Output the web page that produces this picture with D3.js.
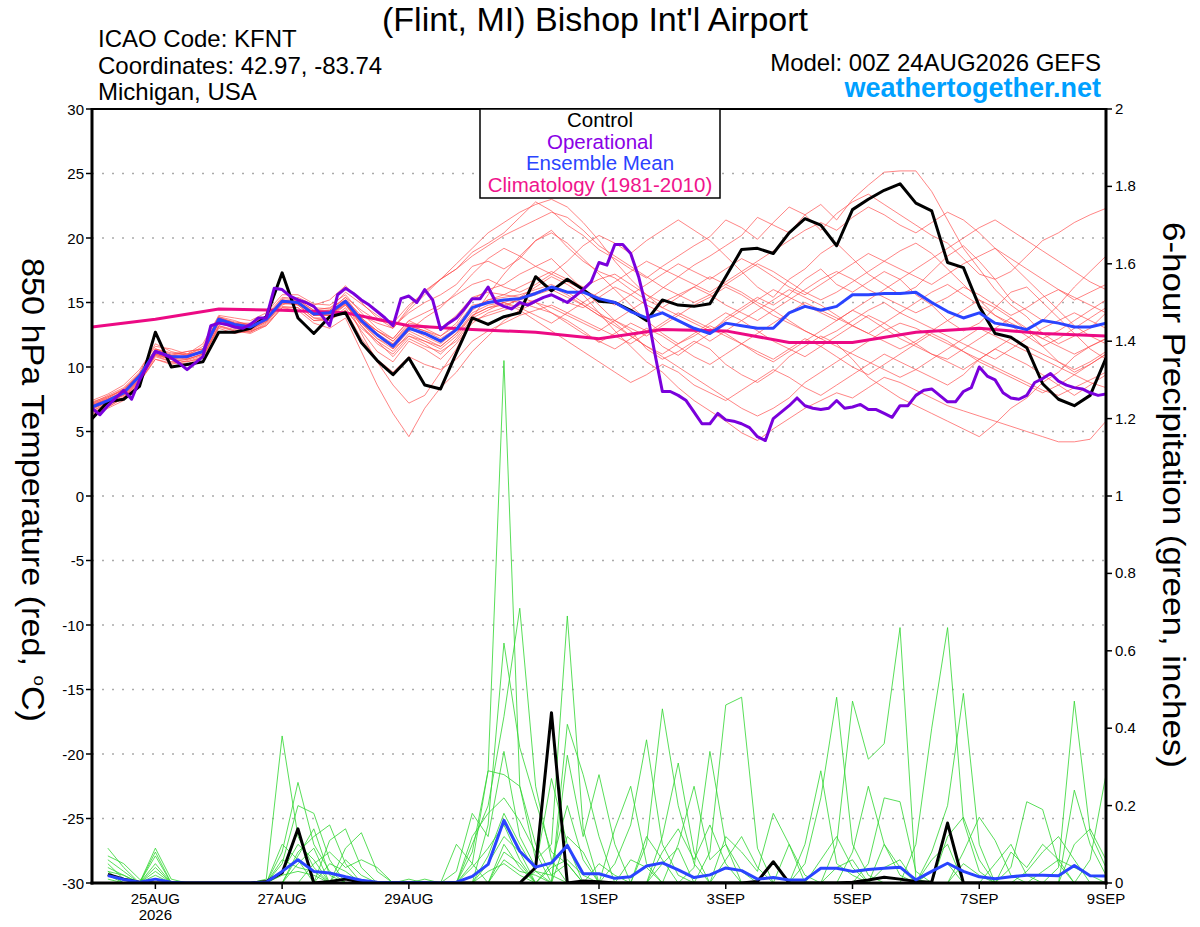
<!DOCTYPE html>
<html><head><meta charset="utf-8">
<script src="https://cdn.jsdelivr.net/npm/d3@7"></script>
<style>body{margin:0;background:#fff}svg{display:block}text{font-family:"Liberation Sans",Arial,Helvetica,sans-serif}</style>
</head><body><svg id="c" width="1200" height="927"></svg>
<script>
// ---------------- data ----------------
const titleText = "(Flint, MI) Bishop Int'l Airport";
const infoLines = ["ICAO Code: KFNT", "Coordinates: 42.97, -83.74", "Michigan, USA"];
const modelText = "Model: 00Z 24AUG2026 GEFS";
const siteText = "weathertogether.net";
const legendItems = ["Control", "Operational", "Ensemble Mean", "Climatology (1981-2010)"];
const dayLabels = ["25AUG","27AUG","29AUG","1SEP","3SEP","5SEP","7SEP","9SEP"];
const dayLabelHours = [24,72,120,192,240,288,336,384];
const yearLabel = "2026";
const tempTicks = [-30,-25,-20,-15,-10,-5,0,5,10,15,20,25,30];
const precipTicks = [0,0.2,0.4,0.6,0.8,1,1.2,1.4,1.6,1.8,2];
const precipTickLabels = ["0","0.2","0.4","0.6","0.8","1","1.2","1.4","1.6","1.8","2"];

// 6-hourly, 0..384 h
const controlTemp = [6.0,7.3,7.5,8.5,12.7,10.0,10.2,10.4,12.7,12.7,13.0,13.9,17.3,13.8,12.6,13.9,14.2,11.9,10.5,9.4,10.7,8.6,8.3,11.1,13.8,13.3,13.9,14.2,17.0,15.9,16.8,16.0,15.1,15.0,14.4,13.6,15.2,14.8,14.7,14.9,17.0,19.1,19.2,18.8,20.4,21.5,21.0,19.4,22.2,23.0,23.7,24.2,22.7,22.1,18.1,17.7,14.7,12.6,12.3,11.5,8.7,7.5,7.0,7.8,10.7];
const meanTemp = [6.9,7.4,8.0,9.3,11.2,10.8,10.8,11.2,13.7,13.3,13.1,13.7,15.1,15.0,14.1,14.2,15.1,13.6,12.5,11.6,13.0,12.6,12.0,12.9,14.6,15.0,15.2,15.3,15.7,16.2,15.8,15.8,15.3,15.0,14.3,13.8,14.2,13.6,13.0,12.6,13.4,13.2,13.0,13.0,14.2,14.7,14.4,14.7,15.6,15.6,15.7,15.7,15.8,15.0,14.3,13.8,14.2,13.4,13.2,12.9,13.6,13.4,13.1,13.1,13.4];
// 3-hourly, 0..384 h
const operationalTemp = [6.8,6.3,7.0,7.6,8.2,7.5,9.0,10.1,11.2,11.0,
10.7,10.3,9.8,10.3,10.8,13.2,13.4,13.3,13.1,13.0,
13.3,13.8,13.8,16.1,16.0,15.5,15.2,15.0,14.7,14.0,
13.2,15.6,16.1,15.7,15.2,14.8,14.3,13.8,13.2,15.3,
15.5,15.0,16.0,15.2,12.9,13.4,13.8,14.5,15.3,15.3,
16.2,15.0,14.7,14.5,15.0,14.8,15.1,15.4,15.6,15.3,
15.0,15.5,16.0,16.6,18.1,17.9,19.5,19.5,18.8,17.0,
14.5,11.2,8.1,8.1,7.8,7.4,6.5,5.6,5.6,6.4,
5.9,5.8,5.6,5.3,4.6,4.3,6.0,6.5,7.0,7.6,
7.0,6.8,6.7,6.8,7.4,6.8,6.9,7.1,6.7,6.7,
6.4,6.1,7.0,7.0,7.8,8.2,8.3,7.8,7.3,7.3,
8.1,8.4,10.0,9.3,9.0,8.0,7.6,7.5,7.8,8.8,
9.1,9.5,8.9,8.6,8.4,8.3,8.0,7.8,7.9];
// daily, 0..384 h
const climTemp = [13.1,13.7,14.5,14.4,14.2,13.2,12.9,12.7,12.2,12.9,12.8,11.9,11.9,12.7,13.0,12.6,12.4];

// 6-hour precipitation, valid 6..384 h
const controlPrecip = [.022,.01,.002,0,0,0,0,0, 0,0,.004,.026,.14,0,.004,.01, .002,0,0,0,0,0,0,0, 0,0,0,.04,.44,0,.005,.003, 0,0,0,0,0,0,0,0, 0,.004,.055,0,0,0,0,.002, .008,.015,.01,.004,.002,.155,0,0, 0,0,0,0,0,0,0,0];
const meanPrecip = [.019,.009,.002,.01,.002,0,0,0, 0,0,.002,.03,.06,.03,.026,.016, .007,.002,.001,.001,.001,0,.002,.017, .048,.162,.082,.041,.052,.097,.024,.024, .012,.016,.044,.052,.034,.014,.021,.039, .032,.01,.014,.008,.008,.038,.038,.03, .035,.038,.041,.008,.03,.051,.03,.016, .011,.016,.02,.02,.019,.045,.019,.018];

// ensemble members, 850 hPa temperature, 6-hourly 0..384 h
const memberTemps = [
[7.2,7.8,8.4,9.6,11.8,11.2,10.9,11.6,13.9,13.6,13.2,14.0,15.4, 15.3,14.6,14.5,15.8,14.9,14.0,13.1,14.2,15.0,15.6,16.4,17.8,18.2, 17.6,18.4,19.8,20.6,19.3,18.2,17.4,16.9,16.0,15.2,16.1,17.0,17.9, 18.6,19.4,20.2,21.6,21.0,20.4,21.8,22.6,21.4,23.0,24.1,25.1,25.2, 25.2,23.6,21.4,19.2,17.6,16.0,14.8,13.9,12.6,11.8,12.4,13.0,14.2],
[6.6,7.1,7.9,9.0,10.9,10.4,10.6,11.0,13.4,13.0,12.8,13.5,14.8, 15.4,14.8,15.2,16.3,15.0,13.8,13.0,14.6,15.9,16.8,17.6,18.9,19.6, 20.4,21.6,22.8,22.1,21.0,20.2,19.1,18.4,17.6,16.9,17.8,18.6,19.4, 20.1,21.4,20.8,19.9,21.2,22.4,21.8,20.6,21.9,22.8,23.4,22.6,21.8, 21.0,20.2,19.6,18.4,17.2,16.8,17.4,18.6,19.8,20.4,21.2,21.8,22.3],
[7.0,7.6,8.2,9.4,11.0,10.6,10.4,10.8,13.2,12.8,12.6,13.2,14.6, 14.4,13.4,13.0,13.8,11.2,8.6,6.4,4.6,6.8,8.4,9.6,11.2,12.4, 13.6,14.4,15.0,14.2,13.6,12.8,11.9,12.6,13.4,12.8,11.6,10.9,11.8, 12.6,13.8,14.6,15.4,14.8,15.6,16.8,17.6,16.4,15.8,16.6,17.4,16.8, 15.6,14.8,13.6,12.8,13.4,14.6,15.8,16.2,15.0,13.8,12.6,11.4,10.6],
[6.8,7.2,7.6,9.0,11.4,10.9,11.2,11.4,13.8,13.4,13.4,13.9,15.2, 14.8,13.8,13.6,14.6,12.8,11.2,10.4,12.0,11.4,10.6,11.8,13.4,14.2, 14.6,15.4,16.2,17.0,16.4,15.6,14.2,12.8,11.6,10.4,9.6,8.4,7.4, 6.6,5.8,4.9,4.3,5.2,6.0,6.8,7.4,8.0,7.6,8.4,9.2,8.8, 8.2,7.6,7.0,6.6,6.2,5.8,5.4,5.0,4.6,4.2,4.2,4.4,5.8],
[7.4,7.9,8.6,9.8,11.6,11.4,11.0,11.8,14.0,13.8,13.6,14.2,15.6, 15.6,14.9,14.8,15.6,14.2,13.0,12.2,13.6,13.0,12.4,13.4,15.2,16.0, 16.4,17.2,17.8,18.4,17.2,16.0,14.8,13.6,12.8,11.4,10.6,11.2,12.0, 11.4,10.2,9.4,8.8,9.6,10.8,11.6,12.4,11.8,10.6,9.2,8.4,7.6, 7.0,6.4,5.8,5.2,4.6,5.6,6.8,7.6,8.8,9.6,10.8,11.6,12.2],
[6.4,6.9,7.6,8.9,10.6,10.2,10.5,10.9,13.2,12.9,12.7,13.4,14.9, 14.9,14.0,14.0,14.8,13.4,12.2,11.6,12.8,13.8,14.6,15.8,17.2,18.4, 19.2,18.6,17.8,17.2,18.2,19.4,20.2,19.6,18.8,19.8,20.6,21.4,20.6, 19.8,18.6,17.4,16.2,15.4,16.8,17.6,18.8,19.6,18.4,17.2,16.4,15.6, 16.2,17.4,18.6,19.4,18.2,16.8,15.2,14.4,13.6,14.8,16.2,17.4,18.6],
[7.1,7.5,8.0,9.2,11.0,10.7,10.9,11.2,13.6,13.1,13.0,13.6,15.0, 15.0,14.2,14.4,15.4,13.8,12.6,11.4,12.4,11.8,11.0,12.2,13.8,14.4, 15.0,14.4,13.6,12.8,12.0,11.2,10.4,9.6,8.8,9.4,10.2,9.6,8.6, 8.0,7.4,8.2,9.0,9.8,9.2,8.4,7.8,8.6,9.4,10.2,11.0,10.4, 9.8,9.2,8.6,9.4,10.6,11.4,10.8,10.2,9.4,8.6,7.8,8.6,9.4],
[6.2,6.8,7.4,8.8,10.8,10.4,10.2,10.8,13.0,12.6,12.8,13.2,14.6, 14.6,13.6,13.8,14.4,13.0,12.0,10.8,12.2,11.6,11.2,12.0,13.6,14.0, 14.4,14.8,15.2,15.6,15.0,14.6,15.4,16.2,15.6,14.8,14.2,13.6,12.8, 12.0,12.8,13.6,14.4,15.2,16.0,15.4,14.8,14.0,13.2,12.6,13.4,14.2, 15.0,15.8,16.4,15.6,14.8,14.0,13.2,12.4,11.6,12.2,13.0,13.8,14.6],
[6.9,7.4,7.8,9.1,11.2,10.8,10.6,11.0,13.5,13.2,13.0,13.6,15.0, 15.2,14.4,14.6,15.2,12.6,10.4,8.6,7.2,7.8,9.6,11.4,13.8,15.6, 17.2,18.6,19.8,20.4,19.6,18.4,17.2,16.0,14.8,13.6,12.6,11.8,12.4, 13.2,12.6,11.8,11.0,10.4,11.2,12.0,12.8,13.6,14.4,13.8,13.0,12.2, 11.6,11.0,10.6,11.4,12.2,13.0,13.8,12.8,11.6,10.4,9.6,10.2,11.0],
[7.3,7.7,8.3,9.5,11.4,11.0,11.2,11.4,13.8,13.5,13.3,13.8,15.2, 15.0,14.2,14.3,15.2,14.0,13.4,13.0,14.4,15.6,16.8,18.0,19.2,20.4, 21.2,22.0,22.6,23.0,22.4,21.2,19.8,18.2,16.8,15.6,14.6,15.4,16.2, 17.0,16.4,15.8,15.0,14.4,13.6,12.8,12.2,12.8,13.6,14.4,15.0,14.2, 13.6,13.0,12.4,11.8,11.2,10.6,11.4,12.2,13.0,13.6,14.2,13.6,13.0],
[6.7,7.3,7.9,9.2,11.1,10.6,10.8,11.2,13.7,13.2,12.9,13.6,15.0, 14.8,13.8,13.8,14.8,13.2,11.8,11.0,12.4,12.0,11.6,12.6,14.2,14.8, 15.0,14.6,14.0,13.4,14.2,15.0,15.8,16.6,17.4,18.2,17.6,17.0,16.4, 15.8,16.6,17.4,18.2,19.0,19.8,20.6,21.2,20.6,21.6,22.4,21.8,21.0, 20.4,21.2,22.0,21.4,20.4,19.2,18.0,16.8,15.6,14.4,13.2,12.4,11.8],
[7.0,7.5,8.1,9.3,11.3,10.9,10.7,11.3,13.6,13.3,13.2,13.8,15.1, 15.1,14.3,14.1,14.9,13.4,12.4,11.8,13.2,12.8,12.4,13.2,14.8,15.0, 15.2,15.0,14.6,14.2,13.4,12.6,12.0,11.4,12.2,13.0,12.4,11.6,10.8, 10.2,11.0,11.8,11.2,10.6,11.4,12.2,11.6,10.8,10.0,9.4,10.2,11.0, 11.8,12.6,12.0,11.2,10.4,9.8,9.2,8.6,8.0,8.6,9.4,10.2,11.0],
[6.5,7.0,7.7,9.0,10.9,10.6,10.9,11.1,13.6,13.2,13.0,13.7,15.0, 15.1,14.2,14.2,15.0,13.6,12.8,12.0,13.4,13.2,13.0,14.0,15.4,15.8, 15.6,16.2,16.8,17.4,16.8,16.2,16.8,17.2,16.4,15.6,15.0,15.6,16.2, 15.6,14.8,14.2,13.6,14.4,15.2,16.0,16.8,17.4,16.8,16.0,15.4,14.8, 14.2,14.8,15.4,16.2,15.6,14.8,14.0,14.6,15.4,16.0,15.4,14.8,14.2],
[7.2,7.6,8.3,9.4,11.2,10.9,10.8,11.1,13.7,13.3,13.1,13.7,15.2, 15.0,14.0,14.1,15.0,13.6,12.6,11.8,13.0,12.4,11.8,12.8,14.4,15.2, 15.4,15.6,16.0,16.4,15.8,15.0,14.2,13.4,12.4,11.6,10.8,10.0,9.2, 8.4,7.6,6.8,6.2,6.8,7.6,8.8,9.6,10.4,11.2,12.0,12.8,13.4, 13.0,12.4,11.8,11.2,10.6,10.0,9.4,8.8,8.2,7.8,8.4,9.0,9.6],
[6.8,7.3,8.0,9.2,11.2,10.8,10.8,11.3,13.8,13.3,13.1,13.7,15.1, 14.9,14.0,14.2,15.2,13.8,12.8,12.2,13.6,14.2,14.8,15.6,16.4,16.8, 16.2,15.8,16.4,17.2,16.6,16.0,15.4,14.8,15.6,16.4,17.2,18.0,17.4, 16.8,17.6,18.4,17.8,17.0,16.2,15.6,16.4,17.2,18.0,18.8,18.2,17.6, 17.0,16.4,17.2,18.0,18.6,19.2,18.4,17.6,16.8,16.0,15.2,15.8,16.4],
[6.6,7.2,7.8,9.1,11.0,10.6,10.6,11.0,13.4,13.1,12.9,13.5,14.9, 14.9,14.0,14.0,15.0,13.2,12.0,11.2,12.6,12.0,11.4,12.4,14.0,14.6, 14.8,15.2,15.6,16.0,15.4,14.8,14.0,13.6,13.0,12.4,13.2,14.0,14.8, 15.4,16.2,15.6,14.8,14.0,13.4,12.8,12.2,11.6,11.0,10.4,9.8,9.2, 9.8,10.6,11.4,12.2,13.0,12.4,11.8,11.2,10.6,10.0,9.4,8.8,8.4],
[7.1,7.7,8.2,9.5,11.4,11.1,11.0,11.4,13.9,13.4,13.2,13.9,15.3, 15.2,14.4,14.4,15.4,14.4,13.6,13.4,14.8,15.8,16.8,17.6,18.6,19.4, 20.2,20.8,21.4,22.0,21.6,20.6,19.4,18.6,17.8,17.0,16.2,15.6,15.0, 15.6,16.4,17.2,18.0,17.4,16.6,15.8,15.2,15.8,16.6,17.4,18.2,19.0, 19.6,18.8,17.6,16.4,15.2,14.0,13.4,12.8,12.2,12.8,13.6,14.4,15.2],
[6.3,6.9,7.6,8.8,10.6,10.3,10.4,10.7,13.1,12.8,12.7,13.3,14.7, 14.6,13.6,13.6,14.4,12.2,10.6,9.6,10.8,10.2,9.8,10.6,12.0,12.8, 13.4,14.0,14.4,14.8,14.2,13.6,13.0,12.4,11.8,12.6,13.4,14.2,13.6, 13.0,12.4,11.8,12.6,13.4,14.2,15.0,14.4,13.8,13.2,12.6,12.0,11.4, 12.0,12.8,13.6,14.4,15.2,14.6,13.8,13.0,12.2,11.6,11.0,11.6,12.2],
[7.0,7.4,8.0,9.3,11.2,10.9,11.0,11.2,13.6,13.4,13.2,13.8,15.1, 15.0,14.1,14.2,15.1,13.8,12.8,12.0,13.2,12.8,12.2,13.0,14.6,15.2, 15.6,15.4,15.0,14.6,14.0,13.4,12.8,13.6,14.4,15.2,14.6,14.0,13.4, 12.8,13.6,14.4,15.2,16.0,15.4,14.8,14.2,13.6,14.4,15.2,16.0,16.8, 17.6,18.4,19.2,20.0,20.8,21.4,20.6,19.8,19.0,18.2,17.4,16.6,16.0],
[6.9,7.5,8.1,9.4,11.3,10.8,10.7,11.2,13.6,13.2,13.1,13.7,15.0, 15.0,14.2,14.0,14.9,13.4,12.2,11.4,12.8,12.2,11.6,12.6,14.0,14.6, 15.0,15.4,15.8,16.2,15.6,14.8,14.0,13.2,12.4,11.6,11.0,11.8,12.6, 13.4,14.2,13.6,12.8,12.0,11.4,10.8,11.6,12.4,13.2,14.0,13.4,12.6, 11.8,11.0,10.4,9.8,10.6,11.4,12.2,11.6,11.0,10.4,9.8,10.4,11.2]
];

// ensemble members, 6-hour precipitation, valid 6..384 h
const memberPrecip = [
[.09,.04,0,.02,0,0,0,0, 0,0,.01,.38,.12,.04,0,0, 0,0,0,0,0,0,0,.05, .29,1.35,.25,.1,.02,0,0,0, 0,0,0,0,0,0,0,0, 0,0,0,0,.05,.22,.48,.1, .02,0,0,0,0,0,0,0, 0,0,0,0,0,0,0,0],
[.06,.03,0,.09,.01,0,0,0, 0,0,0,.08,.26,.1,.03,0, 0,0,0,0,0,0,0,0, .15,.62,.35,.21,.08,.05,0,0, 0,0,0,0,0,0,0,0, 0,0,0,0,0,0,.1,.47, .32,.36,.66,.01,0,0,0,0, 0,0,0,0,0,0,0,0],
[.04,.02,0,.07,0,0,0,0, 0,0,0,.05,.2,.18,.06,0, 0,0,0,0,0,0,0,.1, .2,.43,.71,.25,.06,0,0,0, 0,0,0,0,0,0,0,0, 0,0,0,0,0,0,0,0, 0,0,0,.1,.4,.66,.16,.03, 0,0,0,0,0,0,0,0],
[.03,0,0,.05,0,0,0,0, 0,0,0,0,.08,.12,.15,.05, 0,0,0,0,0,0,.03,.18, .12,.34,.12,.04,.27,.1,0,0, 0,0,0,0,0,0,0,0, 0,0,0,0,0,0,0,0, 0,0,0,0,.08,.2,.49,.1, 0,0,0,0,0,0,0,0],
[.05,.01,0,.08,0,0,0,0, 0,0,0,.1,.06,0,.11,.14, .04,0,0,0,0,0,0,.08, .29,.28,.25,.06,.1,.69,.14,0, 0,0,0,0,0,0,0,0, 0,0,0,0,.1,.29,.05,.02, 0,0,0,0,0,0,0,0, 0,0,0,0,0,0,0,0],
[.02,0,0,0,0,0,0,0, 0,0,0,0,.05,.09,0,.09, .13,.03,0,0,0,0,0,0, .07,.18,.1,.03,0,.41,.28,.12, 0,0,0,0,0,0,0,0, 0,0,0,0,0,0,0,.08, .25,.1,.02,0,0,0,0,0, 0,0,0,0,0,0,0,0],
[.07,.05,.01,0,0,0,0,0, 0,0,0,.03,.1,.06,0,0, 0,0,0,0,0,0,.1,.05, 0,.1,.04,0,0,.33,.12,.28, .1,0,0,0,0,0,0,0, 0,0,0,0,0,0,0,0, .05,.22,.21,.03,0,0,0,0, 0,0,0,0,0,0,0,0],
[.01,0,0,.03,0,0,0,0, 0,0,0,0,0,.05,.08,.04, .06,.04,0,0,0,0,0,.12, .18,.22,.16,.08,0,0,0,0, 0,.06,.04,0,0,0,0,0, 0,0,0,0,0,.06,.12,.04, 0,0,0,0,0,0,0,0, 0,0,0,0,0,0,0,0],
[.03,.02,0,0,0,0,0,0, 0,0,0,.06,.04,.03,0,0, 0,0,0,0,0,0,0,0, .05,.12,.08,0,.05,.2,.06,0, 0,0,0,.05,.09,0,0,0, 0,0,0,0,0,0,0,0, 0,0,0,0,0,.12,.17,.06, 0,0,0,0,0,0,0,0],
[0,0,0,.04,0,0,0,0, 0,0,0,0,.07,.14,.02,0, 0,0,0,0,0,0,0,0, 0,.06,.03,.02,0,.12,.08,0, 0,0,0,0,0,0,0,.06, .12,.04,0,0,0,0,0,0, 0,0,0,0,0,0,.08,.17, .11,.02,0,0,0,0,0,0],
[0,0,0,0,0,0,0,0, 0,0,0,0,0,0,.05,.03, 0,0,0,0,0,0,0,.04, .09,.15,.06,0,0,0,0,0, .05,.15,.37,.1,.02,0,0,0, 0,0,0,0,0,0,0,0, 0,0,0,0,0,0,0,0, 0,.04,.21,.19,.05,0,0,0],
[0,0,0,0,0,0,0,0, 0,0,0,.02,.03,.02,0,0, 0,0,0,0,0,0,0,0, 0,.08,.05,0,.04,.06,.02,0, 0,0,.1,.45,.2,.05,0,0, 0,0,0,0,0,0,0,0, 0,.04,.06,0,0,0,0,0, 0,0,0,0,0,0,0,0],
[0,0,0,0,0,0,0,0, 0,0,0,0,0,0,0,.06, .02,0,0,0,0,0,0,0, .03,.05,.02,0,0,0,0,0, 0,0,0,.12,.31,.08,0,0, 0,0,0,.1,.02,0,0,0, 0,0,0,0,0,0,0,0, 0,0,0,0,0,0,0,0],
[0,0,0,0,0,0,0,0, 0,0,0,0,0,0,0,0, 0,0,0,.01,0,0,0,0, 0,0,0,.03,.02,.05,0,0, 0,0,0,0,.1,.25,.06,.1, 0,0,0,0,0,0,0,0, 0,0,0,0,0,0,0,0, 0,0,0,0,.04,.47,.13,.04],
[0,0,0,0,0,0,0,0, 0,0,0,0,0,0,0,0, 0,0,0,0,.01,0,0,0, 0,0,0,0,0,0,0,0, 0,0,0,0,0,.04,.34,.1, .03,0,0,0,0,0,0,0, 0,.1,.04,0,0,0,0,0, 0,0,0,0,0,.24,.1,.02],
[0,0,0,0,0,0,0,0, 0,0,0,0,0,0,0,0, 0,0,0,0,0,0,0,0, 0,0,0,0,0,0,0,0, 0,0,0,0,0,0,.08,.46, .48,.09,0,0,0,0,0,0, 0,0,0,0,.03,.05,0,0, 0,0,0,0,0,0,.06,.28],
[0,0,0,0,0,0,0,0, 0,0,0,0,0,0,0,0, 0,0,0,0,0,0,0,0, 0,0,0,0,0,0,0,0, .14,.25,.05,0,0,0,0,0, 0,0,0,0,0,0,0,0, 0,0,0,0,0,0,.05,.02, 0,.08,.04,.1,.06,0,0,0],
[0,0,0,0,0,0,0,0, 0,0,0,0,0,0,0,0, 0,0,0,0,0,0,0,0, 0,0,0,0,0,0,0,0, 0,0,0,.08,.14,.06,.15,.05, 0,0,0,0,0,0,.04,.06, 0,0,0,0,0,0,0,0, 0,0,.03,.08,.12,.06,0,0],
[0,0,0,0,0,0,0,0, 0,0,0,0,0,0,0,0, 0,0,0,0,0,0,0,0, 0,0,0,0,0,0,0,0, 0,0,0,0,0,0,0,.12, .08,.03,.18,.1,0,0,0,0, 0,0,0,0,0,0,0,0, .05,.1,.02,0,0,.1,.14,.06],
[0,0,0,0,0,0,0,0, 0,0,0,0,0,0,0,0, 0,0,0,0,0,0,0,0, 0,0,0,0,0,0,0,.05, .02,0,.12,.06,0,0,0,0, 0,0,0,0,0,0,0,0, 0,0,0,0,.06,.1,0,0, 0,0,0,.03,.06,.04,.02,0]
];

// ---------------- chart ----------------
const L = 92, R = 1106, T = 109, B = 883;
const svg = d3.select("#c");
const x = d3.scaleLinear().domain([0, 384]).range([L, R]);
const yT = d3.scaleLinear().domain([-30, 30]).range([B, T]);
const yP = d3.scaleLinear().domain([0, 2]).range([B, T]);

const hoursOf = (arr, step, start) => arr.map((_, i) => start + i * step);
const tLine = (arr, step, start) => { const h = hoursOf(arr, step, start); return d3.line().x((d, i) => x(h[i])).y(d => yT(d))(arr); };
const pLine = (arr, step, start) => { const h = hoursOf(arr, step, start); return d3.line().x((d, i) => x(h[i])).y(d => yP(d))(arr); };

svg.append("defs").append("clipPath").attr("id", "clip")
  .append("rect").attr("x", L).attr("y", T - 2).attr("width", R - L).attr("height", B - T + 2);

// gridlines
svg.append("g").selectAll("line").data(tempTicks.filter(t => t > -30 && t < 30)).join("line")
  .attr("x1", L).attr("x2", R).attr("y1", d => yT(d)).attr("y2", d => yT(d))
  .attr("stroke", "#aaaaaa").attr("stroke-width", 1.5).attr("stroke-dasharray", "2,8");

const plot = svg.append("g").attr("clip-path", "url(#clip)");
plot.append("g").selectAll("path").data(memberTemps).join("path")
  .attr("d", d => tLine(d, 6, 0)).attr("fill", "none")
  .attr("stroke", "#ff4a4a").attr("stroke-width", 0.8).attr("stroke-opacity", 0.85);
plot.append("g").selectAll("path").data(memberPrecip).join("path")
  .attr("d", d => pLine(d, 6, 6)).attr("fill", "none")
  .attr("stroke", "#2ed62e").attr("stroke-width", 0.8);
plot.append("path").attr("d", tLine(climTemp, 24, 0)).attr("fill", "none")
  .attr("stroke", "#ec0a84").attr("stroke-width", 3);
plot.append("path").attr("d", tLine(controlTemp, 6, 0)).attr("fill", "none")
  .attr("stroke", "#000").attr("stroke-width", 3).attr("stroke-linejoin", "round");
plot.append("path").attr("d", pLine(controlPrecip, 6, 6)).attr("fill", "none")
  .attr("stroke", "#000").attr("stroke-width", 3).attr("stroke-linejoin", "round");
plot.append("path").attr("d", tLine(meanTemp, 6, 0)).attr("fill", "none")
  .attr("stroke", "#2a44ff").attr("stroke-width", 3).attr("stroke-linejoin", "round");
plot.append("path").attr("d", pLine(meanPrecip, 6, 6)).attr("fill", "none")
  .attr("stroke", "#2a44ff").attr("stroke-width", 3).attr("stroke-linejoin", "round");
plot.append("path").attr("d", tLine(operationalTemp, 3, 0)).attr("fill", "none")
  .attr("stroke", "#7a00dc").attr("stroke-width", 3).attr("stroke-linejoin", "round");

// frame
svg.append("line").attr("x1", L).attr("x2", R).attr("y1", T).attr("y2", T).attr("stroke", "#000").attr("stroke-width", 2);
svg.append("line").attr("x1", L - 1.5).attr("x2", R + 1.5).attr("y1", B).attr("y2", B).attr("stroke", "#000").attr("stroke-width", 3);
svg.append("line").attr("x1", L).attr("x2", L).attr("y1", T - 1).attr("y2", B + 1.5).attr("stroke", "#000").attr("stroke-width", 3);
svg.append("line").attr("x1", R).attr("x2", R).attr("y1", T - 1).attr("y2", B + 1.5).attr("stroke", "#000").attr("stroke-width", 3);

// left axis
const lg = svg.append("g");
lg.selectAll("line").data(tempTicks).join("line")
  .attr("x1", L - 6).attr("x2", L).attr("y1", d => yT(d)).attr("y2", d => yT(d)).attr("stroke", "#000").attr("stroke-width", 1.5);
lg.selectAll("text").data(tempTicks).join("text")
  .attr("x", L - 8).attr("y", d => yT(d) + 5.5).attr("text-anchor", "end").attr("font-size", 15).text(d => d);

// right axis
const rg = svg.append("g");
rg.selectAll("line").data(precipTicks).join("line")
  .attr("x1", R).attr("x2", R + 6).attr("y1", d => yP(d)).attr("y2", d => yP(d)).attr("stroke", "#000").attr("stroke-width", 1.5);
rg.selectAll("text").data(precipTicks).join("text")
  .attr("x", R + 9).attr("y", d => yP(d) + 5).attr("text-anchor", "start").attr("font-size", 15).text((d, i) => precipTickLabels[i]);

// bottom axis
const bg = svg.append("g");
bg.selectAll("line").data(dayLabelHours).join("line")
  .attr("x1", d => x(d)).attr("x2", d => x(d)).attr("y1", B).attr("y2", B + 6).attr("stroke", "#000").attr("stroke-width", 1.5);
bg.selectAll("text").data(dayLabels).join("text")
  .attr("x", (d, i) => x(dayLabelHours[i])).attr("y", B + 21).attr("text-anchor", "middle").attr("font-size", 15).text(d => d);
bg.append("text").attr("x", x(dayLabelHours[0])).attr("y", B + 37).attr("text-anchor", "middle").attr("font-size", 15).text(yearLabel);

// axis titles (both read top-to-bottom)
const lt = svg.append("text").attr("transform", "translate(22,490) rotate(90)").attr("text-anchor", "middle")
  .attr("font-size", 31).attr("textLength", 464).attr("lengthAdjust", "spacingAndGlyphs");
lt.append("tspan").text("850 hPa Temperature (red, ");
lt.append("tspan").attr("font-size", 17).attr("dy", -12).text("o");
lt.append("tspan").attr("dy", 12).text("C)");
svg.append("text").attr("transform", "translate(1163,495) rotate(90)").attr("text-anchor", "middle")
  .attr("font-size", 31).attr("textLength", 546).attr("lengthAdjust", "spacingAndGlyphs")
  .text("6-hour Precipitation (green, inches)");

// titles
svg.append("text").attr("x", 595).attr("y", 31).attr("text-anchor", "middle").attr("font-size", 34).text(titleText);
svg.selectAll(".info").data(infoLines).join("text").attr("class", "info")
  .attr("x", 98).attr("y", (d, i) => 47 + i * 26.7).attr("font-size", 24).text(d => d);
svg.append("text").attr("x", 1101).attr("y", 71).attr("text-anchor", "end").attr("font-size", 24).text(modelText);
svg.append("text").attr("x", 1101).attr("y", 97).attr("text-anchor", "end").attr("font-size", 27).attr("font-weight", "bold")
  .attr("fill", "#00a0ff").text(siteText);

// legend
const legColors = ["#000000", "#8a00e6", "#2a44ff", "#f0148c"];
svg.append("rect").attr("x", 480).attr("y", T).attr("width", 240).attr("height", 89)
  .attr("fill", "#fff").attr("stroke", "#000").attr("stroke-width", 1.5);
svg.selectAll(".leg").data(legendItems).join("text").attr("class", "leg")
  .attr("x", 600).attr("y", (d, i) => 127 + i * 21.6).attr("text-anchor", "middle").attr("font-size", 20.5)
  .attr("fill", (d, i) => legColors[i]).text(d => d);
</script></body></html>
